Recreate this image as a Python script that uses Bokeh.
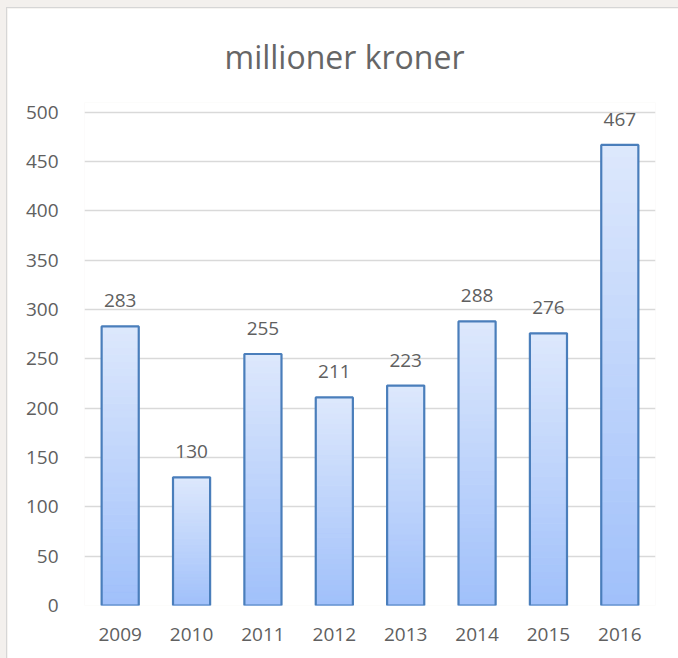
from bokeh.plotting import figure
from bokeh.models import Range1d, FactorRange, ColumnDataSource, FixedTicker, GlobalInlineStyleSheet
from bokeh.embed import file_html
from bokeh.resources import INLINE
from bokeh.core.properties import value

# ---- data ----
years = ["2009", "2010", "2011", "2012", "2013", "2014", "2015", "2016"]
amounts = [283, 130, 255, 211, 223, 288, 276, 467]
y_ticks = [0, 50, 100, 150, 200, 250, 300, 350, 400, 450, 500]
title_text = "millioner kroner"

# ---- style ----
FONT = "Open Sans"
TEXT_COLOR = "#606060"
TOP_RGB = (221, 232, 252)
BOTTOM_RGB = (160, 192, 250)
N_SLICES = 40


def mix(a, b, t):
    return "#%02x%02x%02x" % tuple(int(round(a[i] + (b[i] - a[i]) * t)) for i in range(3))


p = figure(
    x_range=FactorRange(*years, range_padding=0),
    y_range=Range1d(0, 510),
    width=671, height=650,
    output_backend="svg", toolbar_location=None,
    min_border_left=77, min_border_right=23, min_border_top=94, min_border_bottom=53,
)
p.margin = (8, 0, 0, 7)
p.stylesheets = [GlobalInlineStyleSheet(css="html,body{margin:0;padding:0;background:#f3f0ed;overflow:hidden}")]
p.styles = {"box-shadow": "0 0 0 1px #d6d6d6"}

# gradient bars built from slices of each bar's own value
xs, bots, tops, cols = [], [], [], []
for yr, v in zip(years, amounts):
    for k in range(N_SLICES):
        xs.append(yr)
        bots.append(v * k / N_SLICES)
        tops.append(v * (k + 1) / N_SLICES)
        cols.append(mix(BOTTOM_RGB, TOP_RGB, (k + 0.5) / N_SLICES))
p.vbar(x=xs, bottom=bots, top=tops, width=0.52, fill_color=cols, line_color=cols, line_width=1)

src = ColumnDataSource(dict(x=years, top=amounts, label=[str(a) for a in amounts]))
p.vbar(x="x", top="top", bottom=0, width=0.52, source=src, fill_alpha=0,
       line_color="#4a7ebb", line_width=2.2)

p.text(x="x", y="top", text="label", source=src, text_align="center", text_baseline="bottom",
       y_offset=-19, text_font=value(FONT), text_font_size="19px", text_color=TEXT_COLOR)

# title
p.title.text = title_text
p.title.text_font = FONT
p.title.text_font_size = "32px"
p.title.text_font_style = "normal"
p.title.text_color = "#666666"
p.title.align = "left"
p.title.offset = 140
p.title.standoff = 49

# axes
p.yaxis.ticker = FixedTicker(ticks=y_ticks)
for ax in (p.xaxis[0], p.yaxis[0]):
    ax.axis_line_color = None
    ax.major_tick_line_color = None
    ax.minor_tick_line_color = None
    ax.major_label_text_font = FONT
    ax.major_label_text_font_size = "19px"
    ax.major_label_text_color = TEXT_COLOR
p.yaxis.major_label_standoff = 20
p.xaxis.major_label_standoff = 16

p.xgrid.grid_line_color = None
p.ygrid.grid_line_color = "#d9d9d9"
p.ygrid.grid_line_width = 1.5
p.outline_line_color = None
p.background_fill_color = "white"
p.border_fill_color = "white"

open("out.html", "w").write(file_html(p, INLINE))
